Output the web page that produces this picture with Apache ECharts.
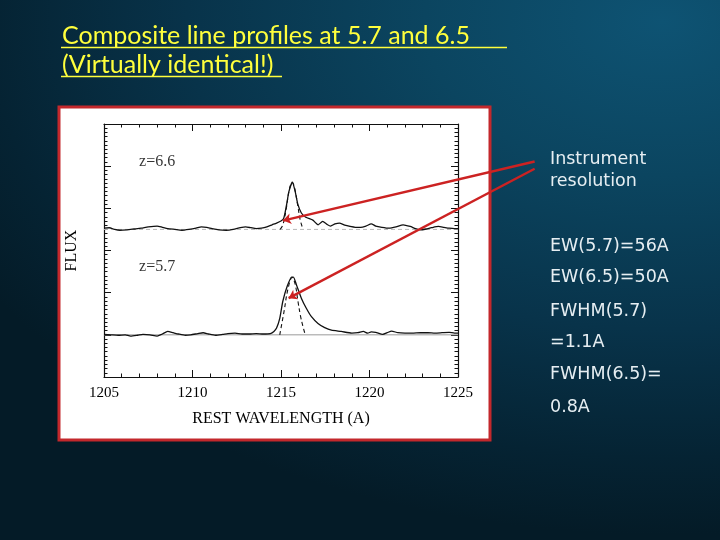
<!DOCTYPE html>
<html>
<head>
<meta charset="utf-8">
<script src="https://cdn.jsdelivr.net/npm/echarts@6/dist/echarts.min.js"></script>
<style>
html,body{margin:0;padding:0;}
body{width:720px;height:540px;overflow:hidden;
background: radial-gradient(ellipse 110% 95% at 92% 4%, #0e5373 0%, #0b4560 30%, #08334a 60%, #052333 85%, #041b27 100%);}
#c{width:720px;height:540px;}
</style>
</head>
<body>
<div id="c"></div>
<script>
// ---- data ----
var xTicks = [1205, 1210, 1215, 1220, 1225];
var titleLines = ['Composite line profiles at 5.7 and 6.5', '(Virtually identical!)'];
var notes = ['Instrument', 'resolution', 'EW(5.7)=56A', 'EW(6.5)=50A', 'FWHM(5.7)', '=1.1A', 'FWHM(6.5)=', '0.8A'];
var panelLabels = [[1206.7, 5.11, 'z=6.6'], [1206.7, 2.62, 'z=5.7']];

var z66 = [[1205.0,3.53],[1205.3,3.54],[1205.6,3.50],[1205.9,3.48],[1206.3,3.49],[1206.7,3.51],[1207.1,3.53],[1207.5,3.56],[1208.0,3.58],[1208.3,3.55],[1208.6,3.52],[1209.0,3.50],[1209.4,3.48],[1209.8,3.50],[1210.2,3.53],[1210.5,3.56],[1210.8,3.55],[1211.1,3.52],[1211.5,3.49],[1211.9,3.48],[1212.3,3.50],[1212.7,3.54],[1213.0,3.56],[1213.3,3.54],[1213.6,3.52],[1213.9,3.53],[1214.2,3.56],[1214.5,3.61],[1214.75,3.65],[1215.0,3.70],[1215.15,3.76],[1215.3,4.05],[1215.45,4.40],[1215.64,4.62],[1215.8,4.40],[1215.95,4.10],[1216.15,3.89],[1216.4,3.79],[1216.8,3.72],[1217.1,3.61],[1217.35,3.69],[1217.6,3.62],[1217.8,3.58],[1218.05,3.63],[1218.3,3.65],[1218.6,3.60],[1218.9,3.57],[1219.2,3.55],[1219.5,3.55],[1219.8,3.58],[1220.1,3.63],[1220.35,3.58],[1220.7,3.55],[1221.1,3.53],[1221.5,3.56],[1221.9,3.61],[1222.3,3.57],[1222.6,3.52],[1222.9,3.49],[1223.2,3.51],[1223.5,3.54],[1223.9,3.57],[1224.2,3.55],[1224.5,3.53],[1224.8,3.52],[1225.0,3.52]];
var z66res = [[1214.95,3.50],[1215.1,3.60],[1215.3,4.00],[1215.47,4.45],[1215.64,4.62],[1215.8,4.42],[1215.95,4.05],[1216.1,3.70],[1216.25,3.50]];
var z66base = [[1205,3.50],[1225,3.50]];

var z57 = [[1205.0,1.01],[1205.4,1.00],[1205.8,0.99],[1206.2,1.00],[1206.5,0.97],[1206.9,0.99],[1207.2,1.01],[1207.6,1.00],[1208.0,0.97],[1208.3,1.02],[1208.6,1.08],[1208.9,1.05],[1209.2,1.02],[1209.6,0.99],[1209.9,1.00],[1210.3,1.03],[1210.6,1.05],[1210.9,1.02],[1211.3,0.99],[1211.7,1.01],[1212.0,1.03],[1212.4,1.04],[1212.8,1.02],[1213.2,1.02],[1213.6,1.03],[1214.0,1.02],[1214.4,1.03],[1214.6,1.08],[1214.75,1.16],[1214.93,1.39],[1215.1,1.79],[1215.35,2.15],[1215.6,2.37],[1215.7,2.37],[1215.87,2.19],[1216.15,1.87],[1216.43,1.63],[1216.72,1.43],[1217.09,1.27],[1217.47,1.17],[1217.85,1.11],[1218.4,1.08],[1219.0,1.04],[1219.35,1.05],[1219.65,1.08],[1219.9,1.04],[1220.1,1.07],[1220.35,1.06],[1220.75,1.01],[1221.0,1.05],[1221.25,1.09],[1221.6,1.05],[1222.0,1.04],[1222.4,1.04],[1222.9,1.05],[1223.3,1.05],[1223.7,1.04],[1224.1,1.05],[1224.5,1.06],[1224.8,1.04],[1225.0,1.04]];
var z57res = [[1214.93,1.00],[1215.17,1.55],[1215.4,2.10],[1215.63,2.36],[1215.8,2.20],[1215.96,1.79],[1216.1,1.45],[1216.24,1.20],[1216.37,1.00]];
var z57base = [[1205,1.00],[1225,1.00]];

var arrows = [
  [[1229.33, 5.11], [1215.11, 3.71]],
  [[1229.33, 4.94], [1215.43, 1.87]]
];

// ---- chart ----
var chart = echarts.init(document.getElementById('c'));
var serif = 'Liberation Serif';
var lineBlack = '#111111';

function axisCommon(extra) {
  return Object.assign({
    axisLine: {show: true, onZero: false, lineStyle: {color: '#111', width: 1.2}},
    axisTick: {show: true, inside: true, length: 7, lineStyle: {color: '#111', width: 1}},
    splitLine: {show: false},
    minorSplitLine: {show: false}
  }, extra);
}

var graphics = [
  {type: 'rect', z: -10, shape: {x: 59, y: 107, width: 431, height: 333},
   style: {fill: '#ffffff', stroke: '#c3282c', lineWidth: 3}}
];
// title
var titleBase = [43.5, 72.5];
titleLines.forEach(function (t, i) {
  graphics.push({type: 'text', z: 10, x: 62, y: titleBase[i] - 8,
    style: {text: t, fill: '#ffff3c', font: '25px Lato, sans-serif', textVerticalAlign: 'middle', textAlign: 'left'}});
});
graphics.push({type: 'line', shape: {x1: 61, y1: 47.5, x2: 507, y2: 47.5}, style: {stroke: '#ffff3c', lineWidth: 1.6}});
graphics.push({type: 'line', shape: {x1: 61, y1: 76.5, x2: 282, y2: 76.5}, style: {stroke: '#ffff3c', lineWidth: 1.6}});
// right notes
var noteBase = [165, 187, 252, 283.5, 317, 348.5, 380, 413.5];
notes.forEach(function (t, i) {
  graphics.push({type: 'text', z: 10, x: 550, y: noteBase[i] - 6,
    style: {text: t, fill: '#e6eef2', font: '17.5px "DejaVu Sans", Verdana, sans-serif', textVerticalAlign: 'middle', textAlign: 'left'}});
});

var option = {
  backgroundColor: 'transparent',
  animation: false,
  graphic: graphics,
  grid: {left: 104, right: 262, top: 124, bottom: 163, show: false},
  xAxis: [
    axisCommon({type: 'value', position: 'bottom', min: 1205, max: 1225, interval: 5,
      minorTick: {show: true, splitNumber: 5, length: 3.5, lineStyle: {color: '#111'}},
      axisLabel: {show: true, color: '#000', fontFamily: serif, fontSize: 15, margin: 9,
        formatter: function (v) { return xTicks.indexOf(v) >= 0 ? String(v) : ''; }},
      name: 'REST WAVELENGTH (A)', nameLocation: 'middle', nameGap: 34,
      nameTextStyle: {color: '#000', fontFamily: serif, fontSize: 16}}),
    axisCommon({type: 'value', position: 'top', min: 1205, max: 1225, interval: 5,
      minorTick: {show: true, splitNumber: 5, length: 3.5, lineStyle: {color: '#111'}},
      axisLabel: {show: false}})
  ],
  yAxis: [
    axisCommon({type: 'value', position: 'left', min: 0, max: 6, interval: 1,
      minorTick: {show: true, splitNumber: 10, length: 3.5, lineStyle: {color: '#111'}},
      axisLabel: {show: false},
      name: 'FLUX', nameLocation: 'middle', nameGap: 24, nameRotate: 90,
      nameTextStyle: {color: '#000', fontFamily: serif, fontSize: 16}}),
    axisCommon({type: 'value', position: 'right', min: 0, max: 6, interval: 1,
      minorTick: {show: true, splitNumber: 10, length: 3.5, lineStyle: {color: '#111'}},
      axisLabel: {show: false}})
  ],
  series: [
    {type: 'line', data: z66base, symbol: 'none', lineStyle: {color: '#b8b8b8', width: 1, type: [4, 3]}, z: 1},
    {type: 'line', data: z57base, symbol: 'none', lineStyle: {color: '#9a9a9a', width: 1}, z: 1},
    {type: 'line', data: z66, symbol: 'none', smooth: 0.2, lineStyle: {color: lineBlack, width: 1.3}, z: 3},
    {type: 'line', data: z57, symbol: 'none', smooth: 0.2, lineStyle: {color: lineBlack, width: 1.3}, z: 3},
    {type: 'line', data: z66res, symbol: 'none', smooth: 0.4, lineStyle: {color: lineBlack, width: 1.1, type: [4, 3]}, z: 2},
    {type: 'line', data: z57res, symbol: 'none', smooth: 0.4, lineStyle: {color: lineBlack, width: 1.1, type: [4, 3]}, z: 2},
    {type: 'scatter', data: panelLabels, symbolSize: 0, z: 4,
      label: {show: true, position: 'right', distance: 5, color: '#000', fontFamily: serif, fontSize: 16,
        formatter: function (p) { return p.data[2]; }}},
    {type: 'lines', coordinateSystem: 'cartesian2d', clip: false, z: 6,
      data: arrows.map(function (a) { return {coords: a}; }),
      symbol: ['none', 'arrow'], symbolSize: 8,
      lineStyle: {color: '#cc2222', width: 2.4, opacity: 1}}
  ]
};
chart.setOption(option);
</script>
</body>
</html>
